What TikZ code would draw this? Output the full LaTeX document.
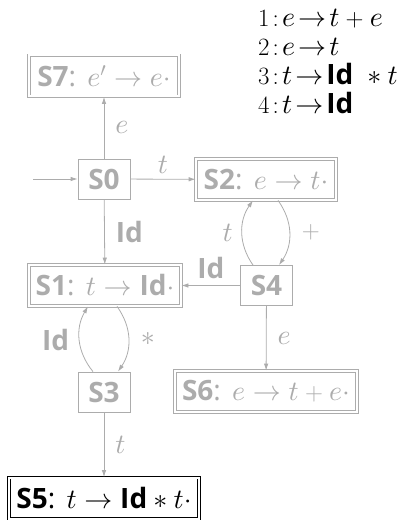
\documentclass[tikz,border=0pt]{standalone}
\DeclareFontFamily{OML}{cmm}{\skewchar\font127 }
\DeclareFontShape{OML}{cmm}{m}{it}{<->cmmi10}{}
\DeclareFontFamily{OMS}{cmsy}{\skewchar\font48 }
\DeclareFontShape{OMS}{cmsy}{m}{n}{<->cmsy10}{}
\usepackage{fontspec}
\setsansfont{Open Sans}
\usetikzlibrary{arrows.meta}
\definecolor{lg}{RGB}{172,172,172}
\newcommand{\nm}[1]{\textsf{\bfseries #1}}
\newcommand{\cl}{\textsf{:}}
\newcommand{\ar}{\!\rightarrow\!}
\begin{document}
\begin{tikzpicture}[x=1pt,y=-1pt,
  >={Latex[length=7pt,width=4.5pt]},
  st/.style={draw=lg, text=lg, line width=0.8pt, font=\fontsize{28}{33}\selectfont,
    minimum width=52pt, minimum height=40pt, inner sep=1pt},
  acc/.style={st, double=white, double distance=2pt, minimum height=41pt},
  fin/.style={acc, draw=black, text=black},
  conn/.style={draw=lg, line width=0.8pt, ->},
  lab/.style={text=lg, font=\fontsize{28}{33}\selectfont, inner sep=1pt},
  gram/.style={anchor=base west, inner sep=0pt, font=\fontsize{28}{33}\selectfont}]
\useasboundingbox (0,0) rectangle (410,521);
% grammar
\node[gram] (g1) at (258,27) {$1\!:\!e\ar t+e$};
\node[gram] (g2) at (258,56) {$2\!:\!e\ar t$};
\node[gram] (g3) at (258,85) {$3\!:\!t\ar\hbox{\nm{Id}}\;\ast t$};
\node[gram] (g4) at (258,113.5) {$4\!:\!t\ar\hbox{\nm{Id}}$};
% states
\node[acc, minimum width=150pt] (s7) at (104,76) {\nm{S7}\cl{} $e'\rightarrow e\cdot$};
\node[st] (s0) at (104,179) {\nm{S0}};
\node[acc, minimum width=140pt] (s2) at (266,179.5) {\nm{S2}\cl{} $e\rightarrow t\cdot$};
\node[acc, minimum width=152pt] (s1) at (105,285.5) {\nm{S1}\cl{} $t\rightarrow \hbox{\nm{Id}}\cdot$};
\node[st] (s4) at (266.5,285.5) {\nm{S4}};
\node[st] (s3) at (104,392) {\nm{S3}};
\node[acc, minimum width=182pt] (s6) at (266,391.5) {\nm{S6}\cl{} $e\rightarrow t+e\cdot$};
\node[fin, minimum width=190pt] (s5) at (104,498) {\nm{S5}\cl{} $t\rightarrow \hbox{\nm{Id}}\ast t\cdot$};
\coordinate (start) at (33,179);
% connectors
\draw[conn] (start) -- (s0);
\draw[conn] (s0) -- node[lab, right=10pt] {$e$} (s7);
\draw[conn] (s0) -- node[lab, above=4pt] {$t$} (s2);
\draw[conn] (s0) -- node[lab, right=10pt] {\nm{Id}} (s1);
\draw[conn] (s4) -- node[lab, above=5pt] {\nm{Id}} (s1);
\draw[conn] ([xshift=-13.5pt]s4.north) to[bend left=35] node[lab, left=8pt] {$t$} ([xshift=-13pt]s2.south);
\draw[conn] ([xshift=12pt]s2.south) to[bend left=35] node[lab, right=11pt] {$+$} ([xshift=12.5pt]s4.north);
\draw[conn] (s4) -- node[lab, right=10pt] {$e$} (s6);
\draw[conn] ([xshift=-11pt]s3.north) to[bend left=35] node[lab, left=9pt] {\nm{Id}} ([xshift=-17pt]s1.south);
\draw[conn] ([xshift=12pt]s1.south) to[bend left=35] node[lab, right=11pt] {$\ast$} ([xshift=14pt]s3.north);
\draw[conn] (s3) -- node[lab, right=10pt] {$t$} (s5);
\end{tikzpicture}
\end{document}
